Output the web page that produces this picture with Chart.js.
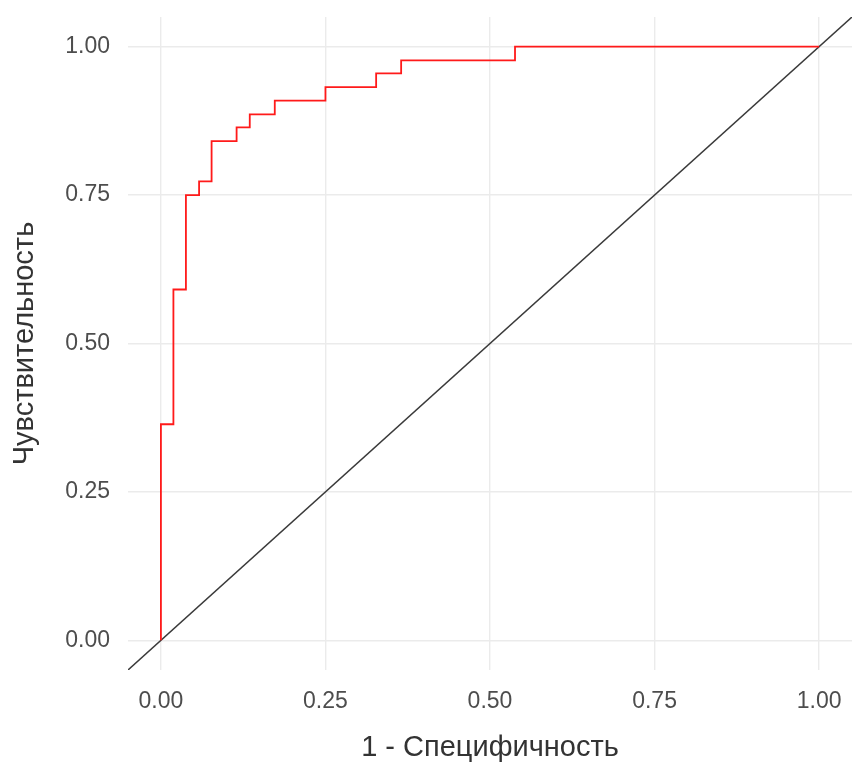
<!DOCTYPE html>
<html>
<head>
  <title>ROC curve</title>
  <style>
    html, body {
      margin: 0;
      padding: 0;
      background: #ffffff;
    }
    .chart-wrap {
      width: 853px;
      height: 762px;
    }
  </style>
</head>
<body>
  <div class="chart-wrap">
    <canvas id="rocChart" width="853" height="762"></canvas>
  </div>

  <script src="https://cdn.jsdelivr.net/npm/chart.js"></script>
  <script>
    // ROC points (1 - specificity, sensitivity)
    const fpr = [0, 0, 0.019, 0.038, 0.058, 0.077, 0.115, 0.135, 0.173, 0.25, 0.327, 0.365, 0.538, 1];
    const tpr = [0, 0.364, 0.591, 0.75, 0.773, 0.841, 0.864, 0.886, 0.909, 0.932, 0.955, 0.977, 1, 1];

    // reference diagonal, spans the whole panel
    const diagX = [-0.05, 1.05];
    const diagY = [-0.05, 1.05];

    const tickValues = [0, 0.25, 0.5, 0.75, 1];
    const xTitle = "1 - Специфичность";
    const yTitle = "Чувствительность";

    const rocPoints = fpr.map((x, i) => ({ x: x, y: tpr[i] }));
    const diagPoints = diagX.map((x, i) => ({ x: x, y: diagY[i] }));

    const fontFamily = "'Liberation Sans', Arial, sans-serif";

    const setTicks = (scale) => {
      scale.ticks = tickValues.map(v => ({ value: v }));
    };

    const ctx = document.getElementById("rocChart").getContext("2d");
    new Chart(ctx, {
      type: "line",
      data: {
        datasets: [
          {
            label: "ROC",
            data: rocPoints,
            borderColor: "#ff1a1a",
            borderWidth: 1.8,
            pointRadius: 0,
            stepped: "before",
            fill: false
          },
          {
            label: "diag",
            data: diagPoints,
            borderColor: "#3a3a3a",
            borderWidth: 1.5,
            pointRadius: 0,
            fill: false
          }
        ]
      },
      options: {
        responsive: false,
        animation: false,
        layout: {
          padding: { top: 17, right: 1, left: 0, bottom: 0 }
        },
        plugins: {
          legend: { display: false },
          tooltip: { enabled: false }
        },
        scales: {
          x: {
            type: "linear",
            min: -0.05,
            max: 1.05,
            afterBuildTicks: setTicks,
            afterFit: (scale) => {
              scale.height = 92;
              scale.paddingLeft = 0;
              scale.paddingRight = 0;
            },
            border: { display: false },
            grid: {
              color: "#ebebeb",
              lineWidth: 1.4,
              drawTicks: false
            },
            ticks: {
              padding: 18,
              color: "#4d4d4d",
              font: { family: fontFamily, size: 23 },
              callback: (v) => Number(v).toFixed(2)
            },
            title: {
              display: true,
              text: xTitle,
              color: "#333333",
              font: { family: fontFamily, size: 29 },
              padding: { top: 6, bottom: -3 }
            }
          },
          y: {
            type: "linear",
            min: -0.05,
            max: 1.05,
            afterBuildTicks: setTicks,
            afterFit: (scale) => {
              scale.width = 128;
              scale.paddingTop = 0;
              scale.paddingBottom = 0;
            },
            border: { display: false },
            grid: {
              color: "#ebebeb",
              lineWidth: 1.4,
              drawTicks: false
            },
            ticks: {
              padding: 18,
              color: "#4d4d4d",
              font: { family: fontFamily, size: 23 },
              callback: (v) => Number(v).toFixed(2)
            },
            title: {
              display: true,
              text: yTitle,
              color: "#333333",
              font: { family: fontFamily, size: 29 },
              padding: { top: 8, bottom: 0 }
            }
          }
        }
      }
    });
  </script>
</body>
</html>
